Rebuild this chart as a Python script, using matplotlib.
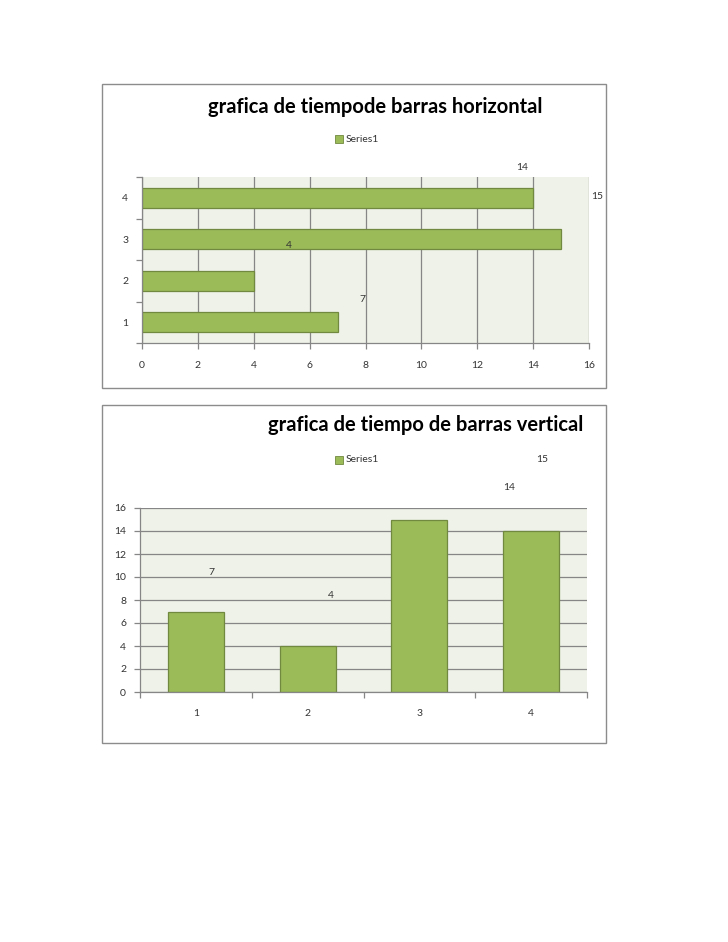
import matplotlib.pyplot as plt
from matplotlib.patches import Rectangle

categorias = [1, 2, 3, 4]
tiempos = [7, 4, 15, 14]

titulo_h = 'grafica de tiempode barras horizontal'
titulo_v = 'grafica de tiempo de barras vertical'
serie = 'Series1'

# desplazamientos de las etiquetas (asi estan en el original)
off_h = [(0.9, 0.56), (1.26, 0.84), (1.28, 1.02), (-0.4, 0.72)]
off_v = [(0.14, 3.4), (0.21, 4.35), (1.1, 5.2), (-0.2, 3.8)]

verde = '#9BBB59'
borde = '#71893F'
fondo = '#EEF2E8'
gris = '#868686'

plt.rcParams['font.family'] = ['Lato', 'DejaVu Sans']

W, H = 728, 942
fig = plt.figure(figsize=(W / 100, H / 100), dpi=100)


def caja(x0, y0, x1, y1):
    fig.patches.append(Rectangle((x0 / W, 1 - y1 / H), (x1 - x0) / W, (y1 - y0) / H,
                                 transform=fig.transFigure, fill=False,
                                 edgecolor='#8C8C8C', linewidth=1.0))


def leyenda(xc, yc):
    fig.patches.append(Rectangle(((xc - 22) / W, 1 - (yc + 4) / H), 8 / W, 8 / H,
                                 transform=fig.transFigure, facecolor=verde,
                                 edgecolor=borde, linewidth=0.6))
    fig.text((xc - 11) / W, 1 - yc / H, serie, fontsize=7.5, color='#333333',
             ha='left', va='center')


def estilo(ax):
    ax.set_facecolor(fondo)
    for s in ['top', 'right']:
        ax.spines[s].set_visible(False)
    for s in ['left', 'bottom']:
        ax.spines[s].set_color(gris)
        ax.spines[s].set_linewidth(0.9)
    ax.tick_params(colors=gris, labelcolor='#333333', labelsize=7.5, length=4, width=0.9)
    ax.set_axisbelow(True)


# ---- barras horizontales ----
caja(102, 84, 606, 388)
ax1 = fig.add_axes([142 / W, 1 - 343 / H, 447 / W, 166 / H])
estilo(ax1)
ax1.barh(categorias, tiempos, height=0.48, color=verde, edgecolor=borde, linewidth=0.9)
ax1.set_xlim(0, 16)
ax1.set_ylim(0.5, 4.5)
ax1.set_xticks(range(0, 17, 2))
ax1.set_yticks(categorias)
ax1.set_yticks([0.5, 1.5, 2.5, 3.5, 4.5], minor=True)
ax1.tick_params(axis='y', which='major', length=0, pad=10)
ax1.tick_params(axis='y', which='minor', length=4, color=gris, width=0.9)
ax1.tick_params(axis='x', pad=9)
ax1.grid(axis='x', color=gris, linewidth=0.9)
for c, v, (dx, dy) in zip(categorias, tiempos, off_h):
    ax1.text(v + dx, c + dy, str(v), fontsize=7.5, color='#333333',
             ha='center', va='center', clip_on=False)
fig.text(375 / W, 1 - 107 / H, titulo_h, fontsize=14.5, fontweight='bold',
         ha='center', va='center', color='black')
leyenda(357, 139)

# ---- barras verticales ----
caja(102, 405, 606, 743)
ax2 = fig.add_axes([140 / W, 1 - 692 / H, 447 / W, 184 / H])
estilo(ax2)
ax2.bar(categorias, tiempos, width=0.5, color=verde, edgecolor=borde, linewidth=0.9)
ax2.set_ylim(0, 16)
ax2.set_xlim(0.5, 4.5)
ax2.set_yticks(range(0, 17, 2))
ax2.set_xticks(categorias)
ax2.set_xticks([0.5, 1.5, 2.5, 3.5, 4.5], minor=True)
ax2.tick_params(axis='x', which='major', length=0, pad=12)
ax2.tick_params(axis='x', which='minor', length=4, color=gris, width=0.9)
ax2.tick_params(axis='y', pad=6)
ax2.grid(axis='y', color=gris, linewidth=0.9)
for c, v, (dx, dy) in zip(categorias, tiempos, off_v):
    ax2.text(c + dx, v + dy, str(v), fontsize=7.5, color='#333333',
             ha='center', va='center', clip_on=False)
fig.text(426 / W, 1 - 425 / H, titulo_v, fontsize=14.5, fontweight='bold',
         ha='center', va='center', color='black')
leyenda(357, 460)

fig.savefig('out.png', dpi=100, facecolor='white')
